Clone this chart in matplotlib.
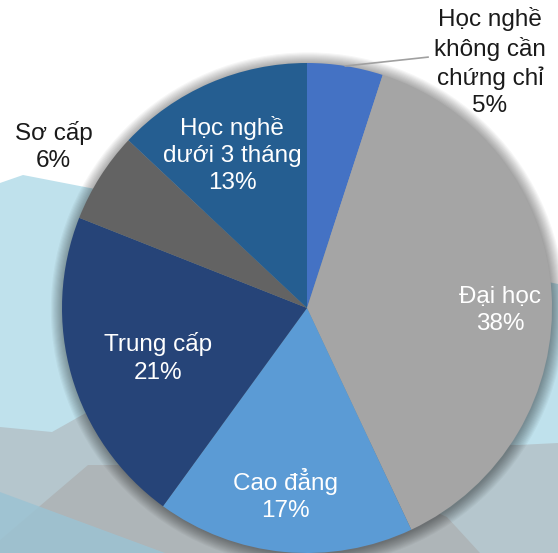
import numpy as np
import matplotlib
matplotlib.use("Agg")
import matplotlib.pyplot as plt
from matplotlib.patches import Polygon, Circle

plt.rcParams['font.family'] = ['Liberation Sans', 'DejaVu Sans']

categories = ["Học nghề\nkhông cần\nchứng chỉ", "Đại học", "Cao đẳng", "Trung cấp", "Sơ cấp", "Học nghề\ndưới 3 tháng"]
values = [5, 38, 17, 21, 6, 13]
colors = ["#4472C4", "#A5A5A5", "#5B9BD5", "#264478", "#636363", "#255E91"]
label_color = ["#1a1a1a", "white", "white", "white", "#1a1a1a", "white"]
# label centres in pie units (radius = 1)
label_pos = [(0.747, 1.004), (0.788, -0.012), (-0.086, -0.763),
             (-0.608, -0.204), (-1.035, 0.661), (-0.306, 0.624)]

W, H = 558, 553
fig = plt.figure(figsize=(W / 100, H / 100), dpi=100)
fig.patch.set_facecolor("#FFFFFF")

# decorative background
bg = fig.add_axes([0, 0, 1, 1])
bg.set_xlim(0, W)
bg.set_ylim(H, 0)
bg.axis("off")
bg.add_patch(Polygon([(0, 183), (23, 175), (90, 188), (558, 284), (558, 553), (0, 553)],
                     closed=True, fc="#BFE1EC", ec="none"))
bg.add_patch(Polygon([(0, 427), (52, 432), (100, 405), (300, 440), (518, 445), (558, 443), (558, 553), (0, 553)],
                     closed=True, fc="#B5C6CD", ec="none"))
bg.add_patch(Polygon([(0, 540), (88, 465), (330, 465), (447, 517), (480, 553), (0, 553)],
                     closed=True, fc="#AEB5B8", ec="none"))
bg.add_patch(Polygon([(0, 492), (165, 553), (0, 553)],
                     closed=True, fc="#9CC3D3", ec="none", alpha=0.85))

# pie axes: center (307,308) px, radius 245 px
cx, cy, R = 307, 308, 245
ax = fig.add_axes([(cx - R) / W, (H - cy - R) / H, 2 * R / W, 2 * R / H])

wedges, _ = ax.pie(values, colors=colors, startangle=90, counterclock=False,
                   radius=1.0, wedgeprops=dict(linewidth=0, zorder=2))
ax.set_xlim(-1, 1)
ax.set_ylim(-1, 1)
ax.set_aspect("auto")
ax.axis("off")
for w in wedges:
    w.set_clip_on(False)

# soft shadow
for i in range(12):
    ax.add_patch(Circle((0.004, -0.006), 1.0 + i * 0.0045, fc="black", ec="none",
                        alpha=0.035, zorder=0, clip_on=False))

for i, w in enumerate(wedges):
    mid = np.deg2rad((w.theta1 + w.theta2) / 2)
    txt = f"{categories[i]}\n{values[i]}%"
    lx, ly = label_pos[i]
    if i == 0:
        x0, y0 = np.cos(mid), np.sin(mid)
        ax.plot([x0, 0.494], [y0, 1.024], color="#A0A0A0", lw=1.2, clip_on=False, zorder=3)
    ax.text(lx, ly, txt, ha="center", va="center", fontsize=17.5,
            color=label_color[i], linespacing=1.3, clip_on=False, zorder=4)

fig.savefig("out.png", dpi=100)
